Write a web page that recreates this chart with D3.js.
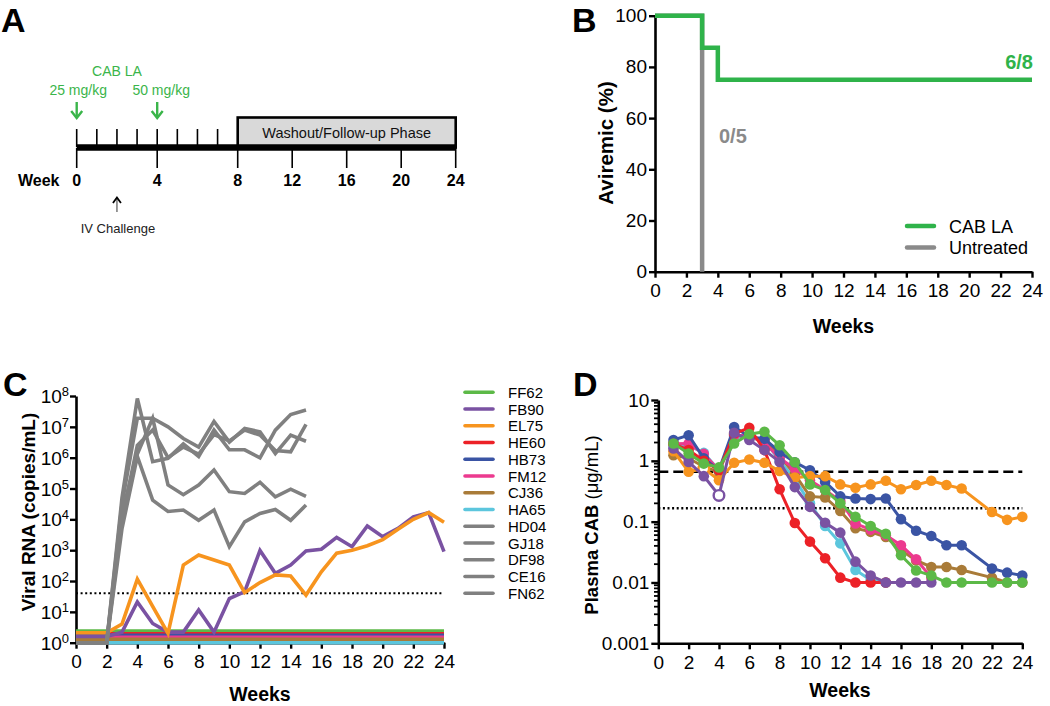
<!DOCTYPE html>
<html><head><meta charset="utf-8">
<script src="https://cdn.jsdelivr.net/npm/d3@7"></script>
<style>body{margin:0;background:#fff}svg{display:block}</style>
</head><body>
<script>
// ================= DATA =================
// Panel A – study design
const timelineMajorWeeks = [0, 4, 8, 12, 16, 20, 24];
const timelineMinorWeeks = [0, 1, 2, 3, 4, 5, 6, 7];
const doseWeeks = [0, 4];
const doseLabels = ["25 mg/kg", "50 mg/kg"];
const challengeWeek = 2;
const washoutWeeks = [8, 24];

// Panel B – aviremia
const survWeeksCAB = [0, 3, 4, 24];
const survPctCAB = [100, 87.5, 75, 75];
const survWeeksUnt = [0, 3];
const survPctUnt = [100, 0];
const survLegend = ["CAB LA", "Untreated"];
const survCounts = ["6/8", "0/5"];
const weekTicks = [0, 2, 4, 6, 8, 10, 12, 14, 16, 18, 20, 22, 24];
const aviremicTicks = [0, 20, 40, 60, 80, 100];

// Panel C – viral RNA
const animals = ["FF62", "FB90", "EL75", "HE60", "HB73", "FM12", "CJ36", "HA65", "HD04", "GJ18", "DF98", "CE16", "FN62"];
const rnaWeeks = [0,1,2,3,4,5,6,7,8,9,10,11,12,13,14,15,16,17,18,19,20,21,22,23,24];
const rnaFB90 = [1.6,1.6,1.6,2.2,21,4.2,2.2,2.2,11.5,2.2,27,45,980,178,330,950,1070,2600,1300,6100,2750,5100,12000,16500,900];
const rnaEL75 = [2.1,2.1,2.1,4,115,15,2,330,700,480,330,42,89,158,145,35,200,800,1000,1400,2200,4800,10000,16500,8000];
const rnaBaselineWeeks = [0, 24];
const rnaFF62 = [2.4, 2.4];
const rnaHE60 = [1.95, 1.95];
const rnaHB73 = [1.75, 1.75];
const rnaFM12 = [1.5, 1.5];
const rnaCJ36 = [1.3, 1.3];
const rnaHA65 = [1.0, 1.0];
const rnaUntreatedWeeks = [0,1,2,3,4,5,6,7,8,9,10,11,12,13,14,15];
const rnaHD04 = [1,1,1,5e4,8.3e7,7.4e5,9.5e5,2.8e6,1.1e6,7.9e6,1.8e6,1.8e6,9.8e5,7.8e6,2.5e7,3.5e7];
const rnaGJ18 = [1,1,1,3.2e4,1.9e7,1.9e7,1e7,4.2e6,2.2e6,1.5e7,3.2e6,8.9e6,6.9e6,1.35e6,5.4e6,3.4e6];
const rnaDF98 = [1,1,1,1e4,2.5e6,7.9e6,1e6,2.2e6,1.3e6,5.6e6,3.5e6,7.9e6,5.4e6,1.7e6,1.55e6,1.2e7];
const rnaCE16 = [1,1,1,1.6e4,1.3e6,1.9e7,1.3e5,6.3e4,1.3e5,4e5,7.9e4,6.9e4,1.6e5,5.4e4,9.5e4,5.6e4];
const rnaFN62 = [1,1,1,5e3,1.1e6,4.2e4,1.8e4,2e4,9.3e3,2e4,1.3e3,8.3e3,1.55e4,2.1e4,9.3e3,2.9e4];
const rnaDetectionLimit = 40;
const rnaTickExponents = [0,1,2,3,4,5,6,7,8];

// Panel D – plasma CAB
const cabWeeks = [1,2,3,4,5,6,7,8,9,10,11,12,13,14,15,16,17,18,19,20,22,23,24];
const cabFF62 = [1.93,1.32,0.9,0.78,1.93,2.75,3.0,1.8,0.95,0.41,0.33,0.2,0.12,0.085,0.063,0.028,0.0157,0.013,0.01,0.01,0.01,0.01,0.01];
const cabFB90 = [1.6,0.96,0.56,0.27,2.9,2.2,1.5,0.96,0.37,0.175,0.096,0.066,0.022,0.013,0.01,0.01,0.01,0.01,null,null,null,null,null];
const cabEL75 = [1.44,0.66,0.75,0.48,0.93,1.05,0.93,0.68,0.53,0.56,0.56,0.41,0.36,0.41,0.47,0.34,0.4,0.47,0.4,0.35,0.144,0.107,0.12];
const cabHE60 = [1.9,1.5,1.0,0.7,2.8,3.5,1.5,0.34,0.095,0.047,0.025,0.012,0.01,0.01,0.01,null,null,null,null,null,null,null,null];
const cabHB73 = [2.2,2.64,1.1,0.7,3.6,2.5,2.3,1.4,0.95,0.7,0.45,0.26,0.24,0.235,0.24,0.11,0.071,0.058,0.041,0.041,0.017,0.0145,0.013];
const cabFM12 = [1.9,1.93,1.3,0.7,2.6,2.6,2.0,1.1,0.75,0.48,0.33,0.22,0.093,0.074,0.06,0.041,0.024,0.012,null,null,null,null,null];
const cabCJ36 = [1.24,1.1,0.8,0.65,2.7,2.4,2.2,1.2,0.6,0.26,0.25,0.15,0.078,0.068,0.056,0.034,0.023,0.018,0.018,0.016,0.012,0.01,0.01];
const cabHA65 = [1.7,1.8,1.35,0.7,2.5,2.4,2.2,1.0,0.5,0.2,0.085,0.044,0.016,0.011,0.01,null,null,null,null,null,null,null,null];
const cabOpenPoints = [["EL75", 3], ["FB90", 4]];
const cabThresholds = [0.66, 0.166];
const cabTicks = [0.001, 0.01, 0.1, 1, 10];
const cabTickLabels = ["0.001", "0.01", "0.1", "1", "10"];

// ================= STYLE =================
const FONT = '"Liberation Sans", Arial, Helvetica, sans-serif';
const colors = {FF62:"#5cb947", FB90:"#7a52a2", EL75:"#f7941e", HE60:"#ec2127", HB73:"#3a54a4",
  FM12:"#ec3a8f", CJ36:"#a97b38", HA65:"#5cc6dd", HD04:"#808080", GJ18:"#808080", DF98:"#808080", CE16:"#808080", FN62:"#808080"};
const greenB = "#2fb34a", grayB = "#8a8a8a", greenA = "#3ab54a";

const svg = d3.select("body").append("svg").attr("width",1050).attr("height",706).style("font-family",FONT);

function styleAxis(g, fs){
  g.attr("font-family", FONT).attr("font-size", fs);
  g.select(".domain").attr("stroke","#000").attr("stroke-width",2.6);
  g.selectAll(".tick line").attr("stroke","#000").attr("stroke-width",2.4);
  g.selectAll(".tick text").attr("fill","#000");
}

// panel letters
[["A",1,32],["B",572,32],["C",3,396],["D",573,396]].forEach(([t,x,y])=>{
  svg.append("text").attr("x",x).attr("y",y).attr("font-size",34).attr("font-weight","bold").text(t);
});

// ================= PANEL A =================
const xA = d3.scaleLinear().domain([0,8,24]).range([76.7,237.7,455.7]);
const gA = svg.append("g");
gA.append("rect").attr("x",xA(washoutWeeks[0])).attr("y",117.5)
  .attr("width",xA(washoutWeeks[1])-xA(washoutWeeks[0])).attr("height",30)
  .attr("fill","#d9d9d9").attr("stroke","#000").attr("stroke-width",2.6);
gA.append("text").attr("x",(xA(washoutWeeks[0])+xA(washoutWeeks[1]))/2).attr("y",137.5)
  .attr("text-anchor","middle").attr("font-size",14.5).attr("fill","#111").text("Washout/Follow-up Phase");
gA.selectAll(".mt").data(timelineMinorWeeks).join("line")
  .attr("x1",d=>xA(d)).attr("x2",d=>xA(d)).attr("y1",129).attr("y2",147).attr("stroke","#000").attr("stroke-width",1.6);
gA.selectAll(".Mt").data(timelineMajorWeeks).join("line")
  .attr("x1",d=>xA(d)).attr("x2",d=>xA(d)).attr("y1",148).attr("y2",168).attr("stroke","#000").attr("stroke-width",1.6);
gA.append("line").attr("x1",xA(0)).attr("x2",xA(24)).attr("y1",147.5).attr("y2",147.5).attr("stroke","#000").attr("stroke-width",6.5);
gA.selectAll(".wl").data(timelineMajorWeeks).join("text")
  .attr("x",d=>xA(d)).attr("y",185.5).attr("text-anchor","middle").attr("font-size",16).attr("font-weight","bold").text(d=>d);
gA.append("text").attr("x",18).attr("y",185.5).attr("font-size",16).attr("font-weight","bold").text("Week");
gA.append("text").attr("x",(xA(doseWeeks[0])+xA(doseWeeks[1]))/2).attr("y",76).attr("text-anchor","middle")
  .attr("font-size",14).attr("fill",greenA).text("CAB LA");
doseWeeks.forEach((w,i)=>{
  const x = xA(w);
  gA.append("text").attr("x",x+(i?4:1.5)).attr("y",95).attr("text-anchor","middle").attr("font-size",14).attr("fill",greenA).text(doseLabels[i]);
  gA.append("line").attr("x1",x).attr("x2",x).attr("y1",102).attr("y2",118).attr("stroke",greenA).attr("stroke-width",2.4);
  gA.append("path").attr("d",`M${x-5.5},${111}L${x},${118}L${x+5.5},${111}`).attr("fill","none").attr("stroke",greenA).attr("stroke-width",2.4);
});
{
  const x = xA(challengeWeek);
  gA.append("line").attr("x1",x).attr("x2",x).attr("y1",198).attr("y2",212).attr("stroke","#555").attr("stroke-width",1.2);
  gA.append("path").attr("d",`M${x-4},${203}L${x},${197.5}L${x+4},${203}`).attr("fill","none").attr("stroke","#000").attr("stroke-width",1.8);
  gA.append("text").attr("x",x+1).attr("y",233).attr("text-anchor","middle").attr("font-size",13).attr("fill","#222").text("IV Challenge");
}

// ================= PANEL B =================
const xB = d3.scaleLinear().domain([0,24]).range([655,1032]);
const yB = d3.scaleLinear().domain([0,100]).range([271.7,15.7]);
const gB = svg.append("g");
const axBx = gB.append("g").attr("transform","translate(0,271.7)")
  .call(d3.axisBottom(xB).tickValues(weekTicks).tickSize(6).tickSizeOuter(0).tickPadding(6));
styleAxis(axBx,19);
const axBy = gB.append("g").attr("transform","translate(655,0)")
  .call(d3.axisLeft(yB).tickValues(aviremicTicks).tickSize(6).tickSizeOuter(0).tickPadding(2));
styleAxis(axBy,19);
const stepLine = d3.line().curve(d3.curveStepAfter);
gB.append("path").attr("d",stepLine(survWeeksUnt.map((w,i)=>[xB(w),yB(survPctUnt[i])])))
  .attr("fill","none").attr("stroke",grayB).attr("stroke-width",4.5);
gB.append("path").attr("d",stepLine(survWeeksCAB.map((w,i)=>[xB(w),yB(survPctCAB[i])])))
  .attr("fill","none").attr("stroke",greenB).attr("stroke-width",4.5);
gB.append("text").attr("x",1033).attr("y",69).attr("text-anchor","end").attr("font-size",20).attr("font-weight","bold").attr("fill",greenB).text(survCounts[0]);
gB.append("text").attr("x",719).attr("y",143).attr("font-size",20).attr("font-weight","bold").attr("fill",grayB).text(survCounts[1]);
[[greenB,226],[grayB,247.5]].forEach(([c,y],i)=>{
  gB.append("line").attr("x1",907).attr("x2",934).attr("y1",y).attr("y2",y).attr("stroke",c).attr("stroke-width",4.5).attr("stroke-linecap","round");
  gB.append("text").attr("x",949).attr("y",y+6.5).attr("font-size",18).text(survLegend[i]);
});
gB.append("text").attr("transform","translate(613,143) rotate(-90)").attr("text-anchor","middle")
  .attr("font-size",20.5).attr("font-weight","bold").text("Aviremic (%)");
gB.append("text").attr("x",843.5).attr("y",333).attr("text-anchor","middle").attr("font-size",19.5).attr("font-weight","bold").text("Weeks");

// ================= PANEL C =================
const xC = d3.scaleLinear().domain([0,24]).range([76,444]);
const yC = d3.scaleLog().domain([1,1e8]).range([642.7,396]);
const gC = svg.append("g");
const axCx = gC.append("g").attr("transform","translate(0,642.7)")
  .call(d3.axisBottom(xC).tickValues(weekTicks).tickSize(6).tickSizeOuter(0).tickPadding(6));
styleAxis(axCx,19);
const axCy = gC.append("g").attr("transform","translate(76,0)")
  .call(d3.axisLeft(yC).tickValues(rnaTickExponents.map(e=>Math.pow(10,e))).tickSize(6).tickSizeOuter(0).tickFormat(""));
styleAxis(axCy,19);
rnaTickExponents.forEach(e=>{
  const t = gC.append("text").attr("x",69).attr("y",yC(Math.pow(10,e))+7).attr("text-anchor","end").attr("font-size",19);
  t.append("tspan").text("10");
  t.append("tspan").attr("dy",-7).attr("font-size",13).text(e);
});
gC.append("line").attr("x1",xC(0)).attr("x2",xC(24)).attr("y1",yC(rnaDetectionLimit)).attr("y2",yC(rnaDetectionLimit))
  .attr("stroke","#000").attr("stroke-width",2).attr("stroke-dasharray","2,2.6");
const rnaSeries = [
  ["FF62", rnaBaselineWeeks, rnaFF62], ["FB90", rnaWeeks, rnaFB90], ["EL75", rnaWeeks, rnaEL75],
  ["HE60", rnaBaselineWeeks, rnaHE60], ["HB73", rnaBaselineWeeks, rnaHB73], ["FM12", rnaBaselineWeeks, rnaFM12],
  ["CJ36", rnaBaselineWeeks, rnaCJ36], ["HA65", rnaBaselineWeeks, rnaHA65],
  ["HD04", rnaUntreatedWeeks, rnaHD04], ["GJ18", rnaUntreatedWeeks, rnaGJ18], ["DF98", rnaUntreatedWeeks, rnaDF98],
  ["CE16", rnaUntreatedWeeks, rnaCE16], ["FN62", rnaUntreatedWeeks, rnaFN62]];
const lineC = d3.line().x(d=>xC(d[0])).y(d=>yC(d[1]));
// baselines first (bottom-most drawn last so it stays visible), then viremic lines
const drawOrderC = ["FF62","HE60","HB73","FM12","CJ36","HA65","FB90","EL75","HD04","GJ18","DF98","CE16","FN62"];
drawOrderC.forEach(id=>{
  const s = rnaSeries.find(r=>r[0]===id);
  gC.append("path").attr("d",lineC(s[1].map((w,i)=>[w,s[2][i]])))
    .attr("fill","none").attr("stroke",colors[id]).attr("stroke-width",3.6).attr("stroke-linejoin","miter");
});
animals.forEach((id,i)=>{
  const y = 392.3 + i*16.75;
  gC.append("line").attr("x1",465).attr("x2",493).attr("y1",y).attr("y2",y).attr("stroke",colors[id]).attr("stroke-width",3.6).attr("stroke-linecap","round");
  gC.append("text").attr("x",508).attr("y",y+5.5).attr("font-size",15).text(id);
});
gC.append("text").attr("transform","translate(35,512) rotate(-90)").attr("text-anchor","middle")
  .attr("font-size",19).attr("font-weight","bold").text("Viral RNA (copies/mL)");
gC.append("text").attr("x",260).attr("y",701).attr("text-anchor","middle").attr("font-size",19.5).attr("font-weight","bold").text("Weeks");

// ================= PANEL D =================
const xD = d3.scaleLinear().domain([0,24]).range([658.3,1022.3]);
const yD = d3.scaleLog().domain([0.001,10]).range([643.3,400]);
const gD = svg.append("g");
const axDx = gD.append("g").attr("transform","translate(0,643.3)")
  .call(d3.axisBottom(xD).tickValues(weekTicks).tickSize(6).tickSizeOuter(0).tickPadding(6));
styleAxis(axDx,19);
const axDy = gD.append("g").attr("transform","translate(658.3,0)")
  .call(d3.axisLeft(yD).tickValues(cabTicks).tickSize(7).tickSizeOuter(0).tickPadding(2).tickFormat((d,i)=>cabTickLabels[i]));
styleAxis(axDy,19);
const minorD = [];
cabTicks.slice(0,-1).forEach(t=>{ for(let k=2;k<10;k++) minorD.push(t*k); });
gD.selectAll(".mn").data(minorD).join("line").attr("x1",658.3).attr("x2",654).attr("y1",d=>yD(d)).attr("y2",d=>yD(d))
  .attr("stroke","#000").attr("stroke-width",1.8);
gD.append("line").attr("x1",xD(0)).attr("x2",xD(24)).attr("y1",yD(cabThresholds[0])).attr("y2",yD(cabThresholds[0]))
  .attr("stroke","#000").attr("stroke-width",2.4).attr("stroke-dasharray","10,5");
gD.append("line").attr("x1",xD(0)).attr("x2",xD(24)).attr("y1",yD(cabThresholds[1])).attr("y2",yD(cabThresholds[1]))
  .attr("stroke","#000").attr("stroke-width",2.4).attr("stroke-dasharray","2,2.6");
const cabSeries = {FF62:cabFF62, FB90:cabFB90, EL75:cabEL75, HE60:cabHE60, HB73:cabHB73, FM12:cabFM12, CJ36:cabCJ36, HA65:cabHA65};
const lineD = d3.line().defined(d=>d[1]!=null).x(d=>xD(d[0])).y(d=>yD(d[1]));
const drawOrderD = ["HA65","CJ36","FM12","HB73","HE60","EL75","FB90","FF62"];
drawOrderD.forEach(id=>{
  const pts = cabWeeks.map((w,i)=>[w,cabSeries[id][i]]);
  const g = gD.append("g");
  g.append("path").attr("d",lineD(pts)).attr("fill","none").attr("stroke",colors[id]).attr("stroke-width",3);
  g.selectAll("circle").data(pts.filter(d=>d[1]!=null)).join("circle")
    .attr("cx",d=>xD(d[0])).attr("cy",d=>yD(d[1])).attr("r",5.3)
    .attr("fill",d=>cabOpenPoints.some(o=>o[0]===id&&o[1]===d[0])?"#fff":colors[id])
    .attr("stroke",colors[id]).attr("stroke-width",d=>cabOpenPoints.some(o=>o[0]===id&&o[1]===d[0])?2.4:0);
});
gD.append("text").attr("transform","translate(598,525) rotate(-90)").attr("text-anchor","middle").attr("font-size",18.5)
  .call(t=>{ t.append("tspan").attr("font-weight","bold").text("Plasma CAB "); t.append("tspan").text("(\u03BCg/mL)"); });
gD.append("text").attr("x",840).attr("y",697).attr("text-anchor","middle").attr("font-size",19.5).attr("font-weight","bold").text("Weeks");
</script>
</body></html>
